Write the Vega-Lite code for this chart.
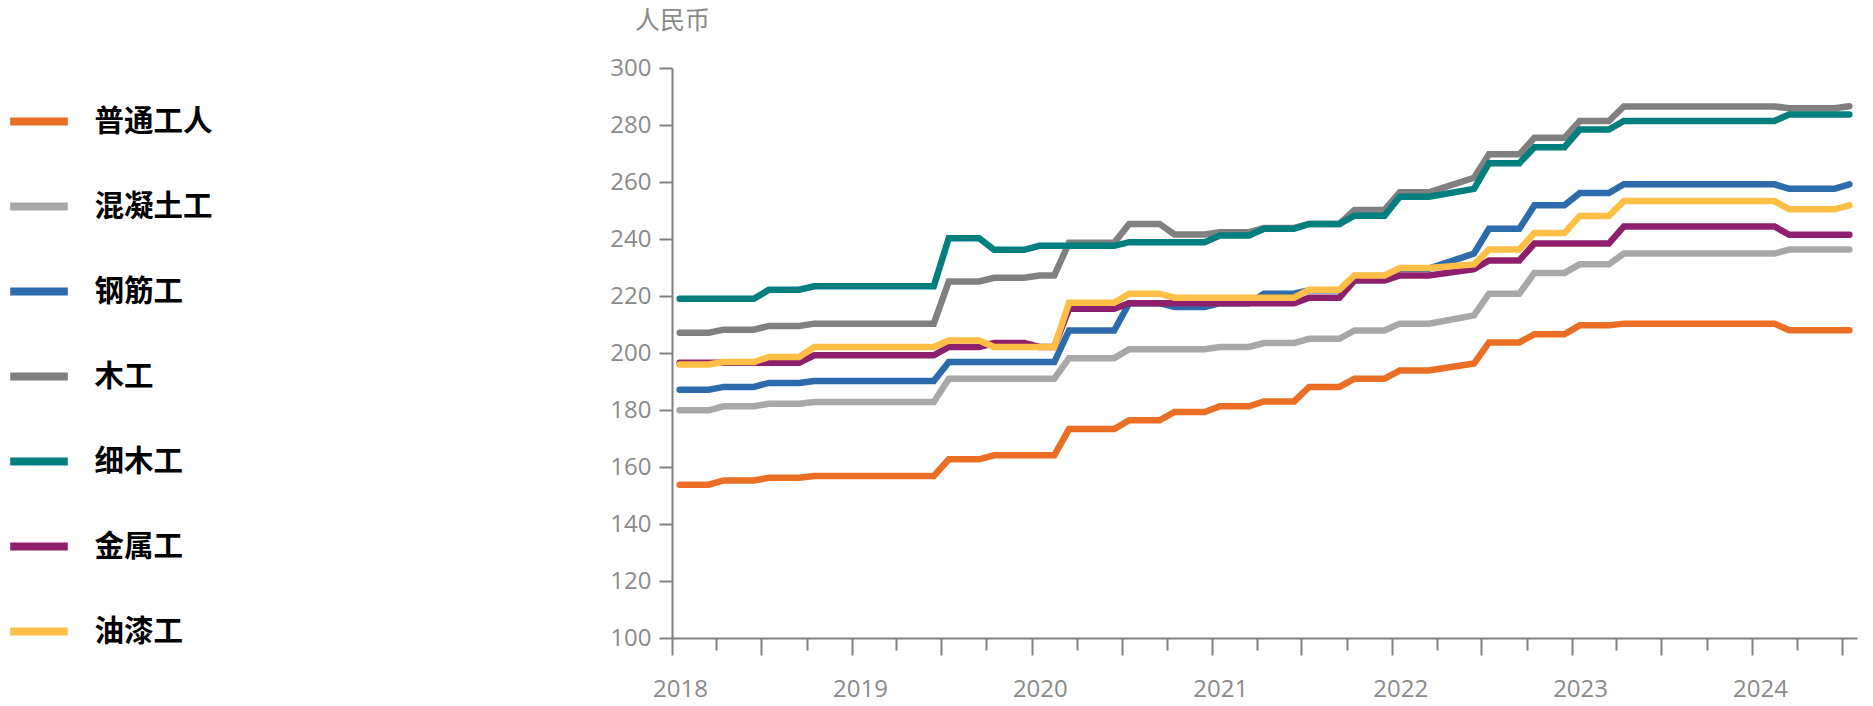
{
  "$schema": "https://vega.github.io/schema/vega-lite/v6.json",
  "width": 1185,
  "height": 570,
  "autosize": {"type": "none"},
  "padding": {"left": 672, "top": 68, "right": 16, "bottom": 68},
  "background": "white",
  "config": {"view": {"stroke": null}, "font": "Open Sans"},
  "data": {"values": [
    {"月份": "2018-01", "普通工人": 153.8, "混凝土工": 179.9, "钢筋工": 187.1, "木工": 207.1, "细木工": 219.0, "金属工": 196.6, "油漆工": 196.0},
    {"月份": "2018-02", "普通工人": 153.8, "混凝土工": 179.9, "钢筋工": 187.1, "木工": 207.1, "细木工": 219.0, "金属工": 196.6, "油漆工": 196.0},
    {"月份": "2018-03", "普通工人": 153.8, "混凝土工": 179.9, "钢筋工": 187.1, "木工": 207.1, "细木工": 219.0, "金属工": 196.6, "油漆工": 196.0},
    {"月份": "2018-04", "普通工人": 155.3, "混凝土工": 181.3, "钢筋工": 188.1, "木工": 208.2, "细木工": 219.0, "金属工": 196.6, "油漆工": 196.8},
    {"月份": "2018-05", "普通工人": 155.3, "混凝土工": 181.3, "钢筋工": 188.1, "木工": 208.2, "细木工": 219.0, "金属工": 196.6, "油漆工": 196.8},
    {"月份": "2018-06", "普通工人": 155.3, "混凝土工": 181.3, "钢筋工": 188.1, "木工": 208.2, "细木工": 219.0, "金属工": 196.6, "油漆工": 196.8},
    {"月份": "2018-07", "普通工人": 156.2, "混凝土工": 182.2, "钢筋工": 189.5, "木工": 209.5, "细木工": 222.2, "金属工": 196.6, "油漆工": 198.6},
    {"月份": "2018-08", "普通工人": 156.2, "混凝土工": 182.2, "钢筋工": 189.5, "木工": 209.5, "细木工": 222.2, "金属工": 196.6, "油漆工": 198.6},
    {"月份": "2018-09", "普通工人": 156.2, "混凝土工": 182.2, "钢筋工": 189.5, "木工": 209.5, "细木工": 222.2, "金属工": 196.6, "油漆工": 198.6},
    {"月份": "2018-10", "普通工人": 156.8, "混凝土工": 182.8, "钢筋工": 190.2, "木工": 210.3, "细木工": 223.4, "金属工": 199.2, "油漆工": 202.1},
    {"月份": "2018-11", "普通工人": 156.8, "混凝土工": 182.8, "钢筋工": 190.2, "木工": 210.3, "细木工": 223.4, "金属工": 199.2, "油漆工": 202.1},
    {"月份": "2018-12", "普通工人": 156.8, "混凝土工": 182.8, "钢筋工": 190.2, "木工": 210.3, "细木工": 223.4, "金属工": 199.2, "油漆工": 202.1},
    {"月份": "2019-01", "普通工人": 156.8, "混凝土工": 182.8, "钢筋工": 190.2, "木工": 210.3, "细木工": 223.4, "金属工": 199.2, "油漆工": 202.1},
    {"月份": "2019-02", "普通工人": 156.8, "混凝土工": 182.8, "钢筋工": 190.2, "木工": 210.3, "细木工": 223.4, "金属工": 199.2, "油漆工": 202.1},
    {"月份": "2019-03", "普通工人": 156.8, "混凝土工": 182.8, "钢筋工": 190.2, "木工": 210.3, "细木工": 223.4, "金属工": 199.2, "油漆工": 202.1},
    {"月份": "2019-04", "普通工人": 156.8, "混凝土工": 182.8, "钢筋工": 190.2, "木工": 210.3, "细木工": 223.4, "金属工": 199.2, "油漆工": 202.1},
    {"月份": "2019-05", "普通工人": 156.8, "混凝土工": 182.8, "钢筋工": 190.2, "木工": 210.3, "细木工": 223.4, "金属工": 199.2, "油漆工": 202.1},
    {"月份": "2019-06", "普通工人": 156.8, "混凝土工": 182.8, "钢筋工": 190.2, "木工": 210.3, "细木工": 223.4, "金属工": 199.2, "油漆工": 202.1},
    {"月份": "2019-07", "普通工人": 162.7, "混凝土工": 191.0, "钢筋工": 196.8, "木工": 225.1, "细木工": 240.3, "金属工": 202.1, "油漆工": 204.4},
    {"月份": "2019-08", "普通工人": 162.7, "混凝土工": 191.0, "钢筋工": 196.8, "木工": 225.1, "细木工": 240.3, "金属工": 202.1, "油漆工": 204.4},
    {"月份": "2019-09", "普通工人": 162.7, "混凝土工": 191.0, "钢筋工": 196.8, "木工": 225.1, "细木工": 240.3, "金属工": 202.1, "油漆工": 204.4},
    {"月份": "2019-10", "普通工人": 164.1, "混凝土工": 191.0, "钢筋工": 196.8, "木工": 226.4, "细木工": 236.2, "金属工": 203.5, "油漆工": 202.1},
    {"月份": "2019-11", "普通工人": 164.1, "混凝土工": 191.0, "钢筋工": 196.8, "木工": 226.4, "细木工": 236.2, "金属工": 203.5, "油漆工": 202.1},
    {"月份": "2019-12", "普通工人": 164.1, "混凝土工": 191.0, "钢筋工": 196.8, "木工": 226.4, "细木工": 236.2, "金属工": 203.5, "油漆工": 202.1},
    {"月份": "2020-01", "普通工人": 164.1, "混凝土工": 191.0, "钢筋工": 196.8, "木工": 227.2, "细木工": 237.6, "金属工": 202.1, "油漆工": 202.1},
    {"月份": "2020-02", "普通工人": 164.1, "混凝土工": 191.0, "钢筋工": 196.8, "木工": 227.2, "细木工": 237.6, "金属工": 202.1, "油漆工": 202.1},
    {"月份": "2020-03", "普通工人": 173.3, "混凝土工": 198.2, "钢筋工": 207.9, "木工": 238.7, "细木工": 237.6, "金属工": 215.5, "油漆工": 217.6},
    {"月份": "2020-04", "普通工人": 173.3, "混凝土工": 198.2, "钢筋工": 207.9, "木工": 238.7, "细木工": 237.6, "金属工": 215.5, "油漆工": 217.6},
    {"月份": "2020-05", "普通工人": 173.3, "混凝土工": 198.2, "钢筋工": 207.9, "木工": 238.7, "细木工": 237.6, "金属工": 215.5, "油漆工": 217.6},
    {"月份": "2020-06", "普通工人": 173.3, "混凝土工": 198.2, "钢筋工": 207.9, "木工": 238.7, "细木工": 237.6, "金属工": 215.5, "油漆工": 217.6},
    {"月份": "2020-07", "普通工人": 176.4, "混凝土工": 201.3, "钢筋工": 217.5, "木工": 245.3, "细木工": 238.9, "金属工": 217.5, "油漆工": 220.8},
    {"月份": "2020-08", "普通工人": 176.4, "混凝土工": 201.3, "钢筋工": 217.5, "木工": 245.3, "细木工": 238.9, "金属工": 217.5, "油漆工": 220.8},
    {"月份": "2020-09", "普通工人": 176.4, "混凝土工": 201.3, "钢筋工": 217.5, "木工": 245.3, "细木工": 238.9, "金属工": 217.5, "油漆工": 220.8},
    {"月份": "2020-10", "普通工人": 179.3, "混凝土工": 201.3, "钢筋工": 216.1, "木工": 241.6, "细木工": 238.9, "金属工": 217.5, "油漆工": 219.4},
    {"月份": "2020-11", "普通工人": 179.3, "混凝土工": 201.3, "钢筋工": 216.1, "木工": 241.6, "细木工": 238.9, "金属工": 217.5, "油漆工": 219.4},
    {"月份": "2020-12", "普通工人": 179.3, "混凝土工": 201.3, "钢筋工": 216.1, "木工": 241.6, "细木工": 238.9, "金属工": 217.5, "油漆工": 219.4},
    {"月份": "2021-01", "普通工人": 181.3, "混凝土工": 202.1, "钢筋工": 217.5, "木工": 242.4, "细木工": 241.2, "金属工": 217.5, "油漆工": 219.4},
    {"月份": "2021-02", "普通工人": 181.3, "混凝土工": 202.1, "钢筋工": 217.5, "木工": 242.4, "细木工": 241.2, "金属工": 217.5, "油漆工": 219.4},
    {"月份": "2021-03", "普通工人": 181.3, "混凝土工": 202.1, "钢筋工": 217.5, "木工": 242.4, "细木工": 241.2, "金属工": 217.5, "油漆工": 219.4},
    {"月份": "2021-04", "普通工人": 183.0, "混凝土工": 203.5, "钢筋工": 220.8, "木工": 243.9, "细木工": 243.6, "金属工": 217.5, "油漆工": 219.4},
    {"月份": "2021-05", "普通工人": 183.0, "混凝土工": 203.5, "钢筋工": 220.8, "木工": 243.9, "细木工": 243.6, "金属工": 217.5, "油漆工": 219.4},
    {"月份": "2021-06", "普通工人": 183.0, "混凝土工": 203.5, "钢筋工": 220.8, "木工": 243.9, "细木工": 243.6, "金属工": 217.5, "油漆工": 219.4},
    {"月份": "2021-07", "普通工人": 188.1, "混凝土工": 205.0, "钢筋工": 222.0, "木工": 245.3, "细木工": 245.3, "金属工": 219.4, "油漆工": 222.2},
    {"月份": "2021-08", "普通工人": 188.1, "混凝土工": 205.0, "钢筋工": 222.0, "木工": 245.3, "细木工": 245.3, "金属工": 219.4, "油漆工": 222.2},
    {"月份": "2021-09", "普通工人": 188.1, "混凝土工": 205.0, "钢筋工": 222.0, "木工": 245.3, "细木工": 245.3, "金属工": 219.4, "油漆工": 222.2},
    {"月份": "2021-10", "普通工人": 191.0, "混凝土工": 207.9, "钢筋工": 227.0, "木工": 250.2, "细木工": 248.2, "金属工": 225.4, "油漆工": 227.2},
    {"月份": "2021-11", "普通工人": 191.0, "混凝土工": 207.9, "钢筋工": 227.0, "木工": 250.2, "细木工": 248.2, "金属工": 225.4, "油漆工": 227.2},
    {"月份": "2021-12", "普通工人": 191.0, "混凝土工": 207.9, "钢筋工": 227.0, "木工": 250.2, "细木工": 248.2, "金属工": 225.4, "油漆工": 227.2},
    {"月份": "2022-01", "普通工人": 193.9, "混凝土工": 210.3, "钢筋工": 229.6, "木工": 256.4, "细木工": 254.8, "金属工": 227.2, "油漆工": 229.8},
    {"月份": "2022-02", "普通工人": 193.9, "混凝土工": 210.3, "钢筋工": 229.6, "木工": 256.4, "细木工": 254.8, "金属工": 227.2, "油漆工": 229.8},
    {"月份": "2022-03", "普通工人": 193.9, "混凝土工": 210.3, "钢筋工": 229.6, "木工": 256.4, "细木工": 254.8, "金属工": 227.2, "油漆工": 229.8},
    {"月份": "2022-06", "普通工人": 196.3, "混凝土工": 213.2, "钢筋工": 234.9, "木工": 261.5, "细木工": 257.6, "金属工": 229.4, "油漆工": 231.1},
    {"月份": "2022-07", "普通工人": 203.7, "混凝土工": 220.8, "钢筋工": 243.6, "木工": 269.7, "细木工": 266.6, "金属工": 232.5, "油漆工": 236.3},
    {"月份": "2022-08", "普通工人": 203.7, "混凝土工": 220.8, "钢筋工": 243.6, "木工": 269.7, "细木工": 266.6, "金属工": 232.5, "油漆工": 236.3},
    {"月份": "2022-09", "普通工人": 203.7, "混凝土工": 220.8, "钢筋工": 243.6, "木工": 269.7, "细木工": 266.6, "金属工": 232.5, "油漆工": 236.3},
    {"月份": "2022-10", "普通工人": 206.6, "混凝土工": 228.1, "钢筋工": 251.8, "木工": 275.5, "细木工": 272.2, "金属工": 238.4, "油漆工": 242.1},
    {"月份": "2022-11", "普通工人": 206.6, "混凝土工": 228.1, "钢筋工": 251.8, "木工": 275.5, "细木工": 272.2, "金属工": 238.4, "油漆工": 242.1},
    {"月份": "2022-12", "普通工人": 206.6, "混凝土工": 228.1, "钢筋工": 251.8, "木工": 275.5, "细木工": 272.2, "金属工": 238.4, "油漆工": 242.1},
    {"月份": "2023-01", "普通工人": 209.7, "混凝土工": 231.1, "钢筋工": 256.1, "木工": 281.4, "细木工": 278.4, "金属工": 238.4, "油漆工": 248.1},
    {"月份": "2023-02", "普通工人": 209.7, "混凝土工": 231.1, "钢筋工": 256.1, "木工": 281.4, "细木工": 278.4, "金属工": 238.4, "油漆工": 248.1},
    {"月份": "2023-03", "普通工人": 209.7, "混凝土工": 231.1, "钢筋工": 256.1, "木工": 281.4, "细木工": 278.4, "金属工": 238.4, "油漆工": 248.1},
    {"月份": "2023-04", "普通工人": 210.3, "混凝土工": 234.9, "钢筋工": 259.2, "木工": 286.5, "细木工": 281.4, "金属工": 244.4, "油漆工": 253.3},
    {"月份": "2023-05", "普通工人": 210.3, "混凝土工": 234.9, "钢筋工": 259.2, "木工": 286.5, "细木工": 281.4, "金属工": 244.4, "油漆工": 253.3},
    {"月份": "2023-06", "普通工人": 210.3, "混凝土工": 234.9, "钢筋工": 259.2, "木工": 286.5, "细木工": 281.4, "金属工": 244.4, "油漆工": 253.3},
    {"月份": "2023-07", "普通工人": 210.3, "混凝土工": 234.9, "钢筋工": 259.2, "木工": 286.5, "细木工": 281.4, "金属工": 244.4, "油漆工": 253.3},
    {"月份": "2023-08", "普通工人": 210.3, "混凝土工": 234.9, "钢筋工": 259.2, "木工": 286.5, "细木工": 281.4, "金属工": 244.4, "油漆工": 253.3},
    {"月份": "2023-09", "普通工人": 210.3, "混凝土工": 234.9, "钢筋工": 259.2, "木工": 286.5, "细木工": 281.4, "金属工": 244.4, "油漆工": 253.3},
    {"月份": "2023-10", "普通工人": 210.3, "混凝土工": 234.9, "钢筋工": 259.2, "木工": 286.5, "细木工": 281.4, "金属工": 244.4, "油漆工": 253.3},
    {"月份": "2023-11", "普通工人": 210.3, "混凝土工": 234.9, "钢筋工": 259.2, "木工": 286.5, "细木工": 281.4, "金属工": 244.4, "油漆工": 253.3},
    {"月份": "2023-12", "普通工人": 210.3, "混凝土工": 234.9, "钢筋工": 259.2, "木工": 286.5, "细木工": 281.4, "金属工": 244.4, "油漆工": 253.3},
    {"月份": "2024-01", "普通工人": 210.3, "混凝土工": 234.9, "钢筋工": 259.2, "木工": 286.5, "细木工": 281.4, "金属工": 244.4, "油漆工": 253.3},
    {"月份": "2024-02", "普通工人": 210.3, "混凝土工": 234.9, "钢筋工": 259.2, "木工": 286.5, "细木工": 281.4, "金属工": 244.4, "油漆工": 253.3},
    {"月份": "2024-03", "普通工人": 208.0, "混凝土工": 236.3, "钢筋工": 257.6, "木工": 285.9, "细木工": 283.7, "金属工": 241.5, "油漆工": 250.4},
    {"月份": "2024-04", "普通工人": 208.0, "混凝土工": 236.3, "钢筋工": 257.6, "木工": 285.9, "细木工": 283.7, "金属工": 241.5, "油漆工": 250.4},
    {"月份": "2024-05", "普通工人": 208.0, "混凝土工": 236.3, "钢筋工": 257.6, "木工": 285.9, "细木工": 283.7, "金属工": 241.5, "油漆工": 250.4},
    {"月份": "2024-06", "普通工人": 208.0, "混凝土工": 236.3, "钢筋工": 257.6, "木工": 285.9, "细木工": 283.7, "金属工": 241.5, "油漆工": 250.4},
    {"月份": "2024-07", "普通工人": 208.0, "混凝土工": 236.3, "钢筋工": 259.2, "木工": 286.6, "细木工": 283.7, "金属工": 241.5, "油漆工": 251.8}
  ]},
  "transform": [
    {"fold": ["普通工人", "混凝土工", "钢筋工", "木工", "细木工", "金属工", "油漆工"], "as": ["工种", "工资"]}
  ],
  "mark": {"type": "line", "strokeWidth": 6.5, "strokeCap": "round"},
  "encoding": {
    "x": {
      "field": "月份",
      "type": "temporal",
      "timeUnit": "utcyearmonth",
      "bandPosition": 0.5,
      "scale": {"domain": [{"year": 2018, "month": 1, "date": 1, "utc": true}, {"year": 2024, "month": 8, "date": 1, "utc": true}]},
      "axis": {
        "title": null,
        "grid": false,
        "values": [
          {"year": 2018, "month": 1, "date": 1, "utc": true}, {"year": 2018, "month": 4, "date": 1, "utc": true}, {"year": 2018, "month": 7, "date": 1, "utc": true}, {"year": 2018, "month": 10, "date": 1, "utc": true},
          {"year": 2019, "month": 1, "date": 1, "utc": true}, {"year": 2019, "month": 4, "date": 1, "utc": true}, {"year": 2019, "month": 7, "date": 1, "utc": true}, {"year": 2019, "month": 10, "date": 1, "utc": true},
          {"year": 2020, "month": 1, "date": 1, "utc": true}, {"year": 2020, "month": 4, "date": 1, "utc": true}, {"year": 2020, "month": 7, "date": 1, "utc": true}, {"year": 2020, "month": 10, "date": 1, "utc": true},
          {"year": 2021, "month": 1, "date": 1, "utc": true}, {"year": 2021, "month": 4, "date": 1, "utc": true}, {"year": 2021, "month": 7, "date": 1, "utc": true}, {"year": 2021, "month": 10, "date": 1, "utc": true},
          {"year": 2022, "month": 1, "date": 1, "utc": true}, {"year": 2022, "month": 4, "date": 1, "utc": true}, {"year": 2022, "month": 7, "date": 1, "utc": true}, {"year": 2022, "month": 10, "date": 1, "utc": true},
          {"year": 2023, "month": 1, "date": 1, "utc": true}, {"year": 2023, "month": 4, "date": 1, "utc": true}, {"year": 2023, "month": 7, "date": 1, "utc": true}, {"year": 2023, "month": 10, "date": 1, "utc": true},
          {"year": 2024, "month": 1, "date": 1, "utc": true}, {"year": 2024, "month": 4, "date": 1, "utc": true}, {"year": 2024, "month": 7, "date": 1, "utc": true}
        ],
        "labelExpr": "utcmonth(datum.value) === 0 ? utcFormat(datum.value, '%Y') : ''",
        "labelOffset": 8,
        "labelFlush": false,
        "labelOverlap": false,
        "labelBound": false,
        "labelPadding": 22,
        "labelFontSize": 24,
        "labelColor": "#8a8a8a",
        "labelFont": "Open Sans",
        "tickSize": {"condition": {"test": "utcmonth(datum.value) % 6 === 0", "value": 17}, "value": 12},
        "tickWidth": 2,
        "tickColor": "#808080",
        "domainWidth": 2,
        "domainColor": "#808080"
      }
    },
    "y": {
      "field": "工资",
      "type": "quantitative",
      "scale": {"domain": [100, 300], "nice": false, "zero": false},
      "axis": {
        "values": [100, 120, 140, 160, 180, 200, 220, 240, 260, 280, 300],
        "grid": false,
        "title": "人民币",
        "titleAngle": 0,
        "titleX": 0,
        "titleY": -48,
        "titleAlign": "center",
        "titleBaseline": "middle",
        "titleFontSize": 25,
        "titleFontWeight": "normal",
        "titleColor": "#8a8a8a",
        "titleFont": "Noto Sans CJK SC",
        "labelFontSize": 24,
        "labelColor": "#8a8a8a",
        "labelFont": "Open Sans",
        "labelPadding": 8,
        "tickSize": 13,
        "tickWidth": 2,
        "tickColor": "#808080",
        "domainWidth": 2,
        "domainColor": "#808080"
      }
    },
    "color": {
      "field": "工种",
      "type": "nominal",
      "sort": ["普通工人", "混凝土工", "钢筋工", "木工", "细木工", "金属工", "油漆工"],
      "scale": {
        "domain": ["普通工人", "混凝土工", "钢筋工", "木工", "细木工", "金属工", "油漆工"],
        "range": ["#EA6F25", "#A8A8A8", "#2D6BAA", "#808080", "#007F7E", "#8E1F6D", "#FFBE45"]
      },
      "legend": {
        "title": null,
        "orient": "none",
        "legendX": -666,
        "legendY": 20.5,
        "direction": "vertical",
        "padding": 0,
        "symbolType": "stroke",
        "symbolSize": 3318,
        "symbolStrokeWidth": 8,
        "labelFont": "Noto Sans CJK SC",
        "labelFontSize": 29.5,
        "labelFontWeight": "bold",
        "labelColor": "#000000",
        "labelOffset": 22.5,
        "rowPadding": 36
      }
    }
  }
}
